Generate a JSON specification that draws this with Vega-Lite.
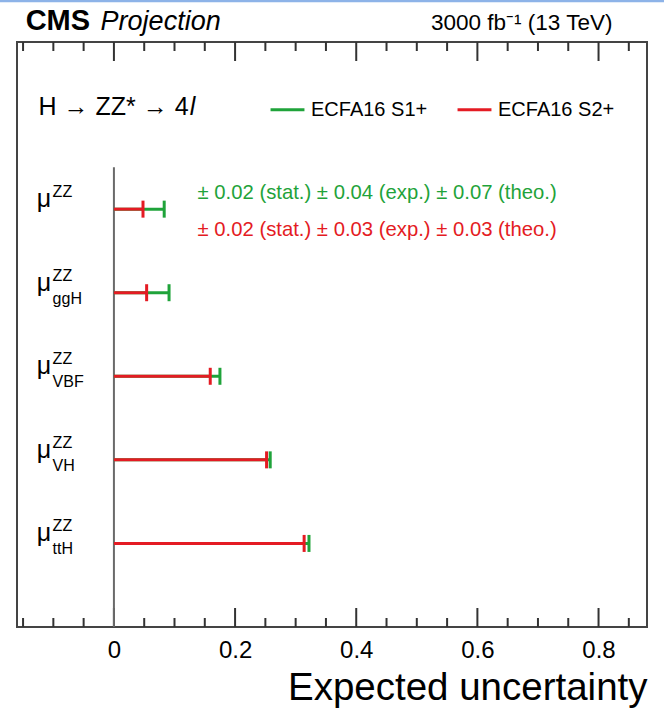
{
  "$schema": "https://vega.github.io/schema/vega-lite/v6.json",
  "width": 630,
  "height": 585,
  "autosize": {"type": "none"},
  "padding": {"left": 17, "top": 42, "right": 17, "bottom": 83},
  "background": "white",
  "config": {
    "font": "Liberation Sans",
    "view": {"stroke": "#444", "strokeWidth": 2},
    "text": {"font": "Liberation Sans", "color": "black"}
  },
  "datasets": {
    "uncert": [
      {"process": "ZZ", "order": 5, "scenario": "ECFA16 S1+", "value": 0.083},
      {"process": "ggH", "order": 4, "scenario": "ECFA16 S1+", "value": 0.091},
      {"process": "VBF", "order": 3, "scenario": "ECFA16 S1+", "value": 0.175},
      {"process": "VH", "order": 2, "scenario": "ECFA16 S1+", "value": 0.258},
      {"process": "ttH", "order": 1, "scenario": "ECFA16 S1+", "value": 0.322},
      {"process": "ZZ", "order": 5, "scenario": "ECFA16 S2+", "value": 0.048},
      {"process": "ggH", "order": 4, "scenario": "ECFA16 S2+", "value": 0.054},
      {"process": "VBF", "order": 3, "scenario": "ECFA16 S2+", "value": 0.159},
      {"process": "VH", "order": 2, "scenario": "ECFA16 S2+", "value": 0.252},
      {"process": "ttH", "order": 1, "scenario": "ECFA16 S2+", "value": 0.314}
    ],
    "labels": [
      {"order": 5, "sub": ""},
      {"order": 4, "sub": "ggH"},
      {"order": 3, "sub": "VBF"},
      {"order": 2, "sub": "VH"},
      {"order": 1, "sub": "ttH"}
    ],
    "ticks": [
      {"v": -0.15}, {"v": -0.1}, {"v": -0.05}, {"v": 0}, {"v": 0.05}, {"v": 0.1}, {"v": 0.15},
      {"v": 0.2}, {"v": 0.25}, {"v": 0.3}, {"v": 0.35}, {"v": 0.4}, {"v": 0.45}, {"v": 0.5},
      {"v": 0.55}, {"v": 0.6}, {"v": 0.65}, {"v": 0.7}, {"v": 0.75}, {"v": 0.8}, {"v": 0.85}
    ],
    "single": [{}]
  },
  "layer": [
    {
      "data": {"name": "single"},
      "mark": {"type": "rule", "color": "#8db3e8", "strokeWidth": 2.5},
      "encoding": {
        "x": {"datum": -0.19, "type": "quantitative", "scale": {"domain": [-0.16, 0.88], "nice": false, "zero": false}, "axis": null},
        "x2": {"datum": 0.91},
        "y": {"datum": 7.49, "type": "quantitative", "scale": {"domain": [0, 7], "nice": false, "zero": false}, "axis": null}
      }
    },
    {
      "data": {"name": "ticks"},
      "transform": [{"filter": "abs(datum.v * 5 - round(datum.v * 5)) < 0.001"}],
      "layer": [
        {
          "mark": {"type": "rule", "color": "#333", "strokeWidth": 2},
          "encoding": {
            "x": {"field": "v", "type": "quantitative", "scale": {"domain": [-0.16, 0.88], "nice": false, "zero": false}, "axis": null},
            "y": {"datum": 0, "type": "quantitative", "scale": {"domain": [0, 7], "nice": false, "zero": false}, "axis": null},
            "y2": {"datum": 0.2274}
          }
        },
        {
          "mark": {"type": "rule", "color": "#333", "strokeWidth": 2},
          "encoding": {
            "x": {"field": "v", "type": "quantitative", "scale": {"domain": [-0.16, 0.88], "nice": false, "zero": false}, "axis": null},
            "y": {"datum": 7, "type": "quantitative", "scale": {"domain": [0, 7], "nice": false, "zero": false}, "axis": null},
            "y2": {"datum": 6.7726}
          }
        }
      ]
    },
    {
      "data": {"name": "ticks"},
      "transform": [{"filter": "abs(datum.v * 5 - round(datum.v * 5)) >= 0.001"}],
      "layer": [
        {
          "mark": {"type": "rule", "color": "#333", "strokeWidth": 2},
          "encoding": {
            "x": {"field": "v", "type": "quantitative", "scale": {"domain": [-0.16, 0.88], "nice": false, "zero": false}, "axis": null},
            "y": {"datum": 0, "type": "quantitative", "scale": {"domain": [0, 7], "nice": false, "zero": false}, "axis": null},
            "y2": {"datum": 0.1077}
          }
        },
        {
          "mark": {"type": "rule", "color": "#333", "strokeWidth": 2},
          "encoding": {
            "x": {"field": "v", "type": "quantitative", "scale": {"domain": [-0.16, 0.88], "nice": false, "zero": false}, "axis": null},
            "y": {"datum": 7, "type": "quantitative", "scale": {"domain": [0, 7], "nice": false, "zero": false}, "axis": null},
            "y2": {"datum": 6.8923}
          }
        }
      ]
    },
    {
      "data": {"name": "single"},
      "mark": {"type": "rule", "color": "#6a6a6a", "strokeWidth": 2},
      "encoding": {
        "x": {"datum": 0, "type": "quantitative", "scale": {"domain": [-0.16, 0.88], "nice": false, "zero": false}, "axis": null},
        "y": {"datum": 0, "type": "quantitative", "scale": {"domain": [0, 7], "nice": false, "zero": false}, "axis": null},
        "y2": {"datum": 5.5}
      }
    },
    {
      "data": {"name": "uncert"},
      "mark": {"type": "rule", "strokeWidth": 3},
      "encoding": {
        "x": {
          "field": "value", "type": "quantitative",
          "scale": {"domain": [-0.16, 0.88], "nice": false, "zero": false},
          "axis": {
            "orient": "bottom",
            "values": [0, 0.2, 0.4, 0.6, 0.8],
            "format": ".1~f",
            "domain": false,
            "grid": false,
            "ticks": false,
            "labelFont": "Liberation Sans",
            "labelFontSize": 24,
            "labelColor": "black",
            "labelPadding": 11,
            "labelFlush": false,
            "labelOverlap": false,
            "title": "Expected uncertainty",
            "titleFont": "Liberation Sans",
            "titleFontSize": 38.5,
            "titleFontWeight": "normal",
            "titleColor": "black",
            "titleAnchor": "end",
            "titlePadding": 7
          }
        },
        "x2": {"datum": 0},
        "y": {"field": "order", "type": "quantitative", "scale": {"domain": [0, 7], "nice": false, "zero": false}, "axis": null},
        "color": {
          "field": "scenario", "type": "nominal",
          "scale": {"domain": ["ECFA16 S1+", "ECFA16 S2+"], "range": ["#1fa33a", "#e41b23"]},
          "legend": {
            "orient": "none",
            "legendX": 252,
            "legendY": 49,
            "direction": "horizontal",
            "title": null,
            "symbolType": "stroke",
            "symbolSize": 1150,
            "symbolStrokeWidth": 3,
            "labelFont": "Liberation Sans",
            "labelFontSize": 20,
            "labelColor": "black",
            "labelOffset": 5,
            "columnPadding": 23
          }
        }
      }
    },
    {
      "data": {"name": "uncert"},
      "mark": {"type": "tick", "orient": "vertical", "size": 17, "thickness": 3, "opacity": 1},
      "encoding": {
        "x": {"field": "value", "type": "quantitative", "scale": {"domain": [-0.16, 0.88], "nice": false, "zero": false}, "axis": null},
        "y": {"field": "order", "type": "quantitative", "scale": {"domain": [0, 7], "nice": false, "zero": false}, "axis": null},
        "color": {"field": "scenario", "type": "nominal", "scale": {"domain": ["ECFA16 S1+", "ECFA16 S2+"], "range": ["#1fa33a", "#e41b23"]}, "legend": null}
      }
    },
    {
      "data": {"name": "labels"},
      "mark": {"type": "text", "text": "μ", "fontSize": 25, "align": "left", "baseline": "alphabetic", "dy": -2},
      "encoding": {
        "x": {"datum": -0.1276, "type": "quantitative", "scale": {"domain": [-0.16, 0.88], "nice": false, "zero": false}, "axis": null},
        "y": {"field": "order", "type": "quantitative", "scale": {"domain": [0, 7], "nice": false, "zero": false}, "axis": null}
      }
    },
    {
      "data": {"name": "labels"},
      "mark": {"type": "text", "text": "ZZ", "fontSize": 16, "align": "left", "baseline": "alphabetic", "dy": -12},
      "encoding": {
        "x": {"datum": -0.1012, "type": "quantitative", "scale": {"domain": [-0.16, 0.88], "nice": false, "zero": false}, "axis": null},
        "y": {"field": "order", "type": "quantitative", "scale": {"domain": [0, 7], "nice": false, "zero": false}, "axis": null}
      }
    },
    {
      "data": {"name": "labels"},
      "mark": {"type": "text", "fontSize": 16, "align": "left", "baseline": "alphabetic", "dy": 11},
      "encoding": {
        "x": {"datum": -0.1012, "type": "quantitative", "scale": {"domain": [-0.16, 0.88], "nice": false, "zero": false}, "axis": null},
        "y": {"field": "order", "type": "quantitative", "scale": {"domain": [0, 7], "nice": false, "zero": false}, "axis": null},
        "text": {"field": "sub"}
      }
    },
    {
      "data": {"name": "single"},
      "mark": {"type": "text", "text": "CMS", "fontSize": 29, "fontWeight": "bold", "align": "left", "baseline": "alphabetic"},
      "encoding": {
        "x": {"datum": -0.1457, "type": "quantitative", "scale": {"domain": [-0.16, 0.88], "nice": false, "zero": false}, "axis": null},
        "y": {"datum": 7.144, "type": "quantitative", "scale": {"domain": [0, 7], "nice": false, "zero": false}, "axis": null}
      }
    },
    {
      "data": {"name": "single"},
      "mark": {"type": "text", "text": "Projection", "fontSize": 27, "fontStyle": "italic", "align": "left", "baseline": "alphabetic"},
      "encoding": {
        "x": {"datum": -0.022, "type": "quantitative", "scale": {"domain": [-0.16, 0.88], "nice": false, "zero": false}, "axis": null},
        "y": {"datum": 7.144, "type": "quantitative", "scale": {"domain": [0, 7], "nice": false, "zero": false}, "axis": null}
      }
    },
    {
      "data": {"name": "single"},
      "mark": {"type": "text", "text": "3000 fb⁻¹ (13 TeV)", "fontSize": 22.5, "align": "right", "baseline": "alphabetic"},
      "encoding": {
        "x": {"datum": 0.823, "type": "quantitative", "scale": {"domain": [-0.16, 0.88], "nice": false, "zero": false}, "axis": null},
        "y": {"datum": 7.144, "type": "quantitative", "scale": {"domain": [0, 7], "nice": false, "zero": false}, "axis": null}
      }
    },
    {
      "data": {"name": "single"},
      "mark": {"type": "text", "text": "H → ZZ* → 4", "fontSize": 25, "align": "right", "baseline": "alphabetic"},
      "encoding": {
        "x": {"datum": 0.1233, "type": "quantitative", "scale": {"domain": [-0.16, 0.88], "nice": false, "zero": false}, "axis": null},
        "y": {"datum": 6.126, "type": "quantitative", "scale": {"domain": [0, 7], "nice": false, "zero": false}, "axis": null}
      }
    },
    {
      "data": {"name": "single"},
      "mark": {"type": "text", "text": "l", "fontSize": 25, "fontStyle": "italic", "align": "left", "baseline": "alphabetic"},
      "encoding": {
        "x": {"datum": 0.125, "type": "quantitative", "scale": {"domain": [-0.16, 0.88], "nice": false, "zero": false}, "axis": null},
        "y": {"datum": 6.126, "type": "quantitative", "scale": {"domain": [0, 7], "nice": false, "zero": false}, "axis": null}
      }
    },
    {
      "data": {"name": "single"},
      "mark": {"type": "text", "text": "± 0.02 (stat.) ± 0.04 (exp.) ± 0.07 (theo.)", "fontSize": 20.3, "align": "left", "baseline": "middle", "color": "#1fa33a"},
      "encoding": {
        "x": {"datum": 0.138, "type": "quantitative", "scale": {"domain": [-0.16, 0.88], "nice": false, "zero": false}, "axis": null},
        "y": {"datum": 5.19, "type": "quantitative", "scale": {"domain": [0, 7], "nice": false, "zero": false}, "axis": null}
      }
    },
    {
      "data": {"name": "single"},
      "mark": {"type": "text", "text": "± 0.02 (stat.) ± 0.03 (exp.) ± 0.03 (theo.)", "fontSize": 20.3, "align": "left", "baseline": "middle", "color": "#e41b23"},
      "encoding": {
        "x": {"datum": 0.138, "type": "quantitative", "scale": {"domain": [-0.16, 0.88], "nice": false, "zero": false}, "axis": null},
        "y": {"datum": 4.75, "type": "quantitative", "scale": {"domain": [0, 7], "nice": false, "zero": false}, "axis": null}
      }
    }
  ],
  "resolve": {"axis": {"x": "independent"}, "legend": {"color": "independent"}}
}
